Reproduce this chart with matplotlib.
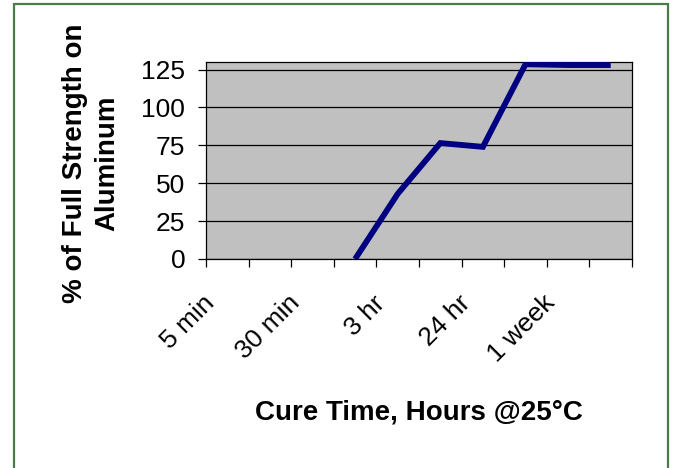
import numpy as np
import matplotlib
matplotlib.use("Agg")
import matplotlib.pyplot as plt
import matplotlib.transforms as mtransforms
from matplotlib.patches import Rectangle

# data (10 categories, only every other one labelled)
cure_labels = ["5 min", "", "30 min", "", "3 hr", "", "24 hr", "", "1 week", ""]
strength = [np.nan, np.nan, np.nan, 0, 43, 76.5, 74, 128.5, 128, 128]
y_ticks = [0, 25, 50, 75, 100, 125]

plt.rcParams['font.family'] = ['Liberation Sans', 'DejaVu Sans']

fig = plt.figure(figsize=(6.73, 4.68), dpi=100)
ax = fig.add_axes([206 / 673, 1 - 259 / 468, 426 / 673, 197 / 468])

x = np.arange(len(cure_labels))
ax.plot(x, strength, color='#000080', lw=4.2, solid_joinstyle='miter',
        solid_capstyle='butt', zorder=3)

ax.set_facecolor('#c0c0c0')
ax.set_xlim(-0.5, len(cure_labels) - 0.5)
ax.set_ylim(0, 130)
ax.set_yticks(y_ticks)
ax.yaxis.grid(True, color='black', lw=0.9)
ax.set_axisbelow(True)
for s in ax.spines.values():
    s.set_color('black')
    s.set_linewidth(0.9)

# tick marks on category boundaries, labels in the middle of categories
ax.set_xticks(np.arange(len(cure_labels) + 1) - 0.5)
ax.set_xticklabels([])
ax.tick_params(axis='x', direction='out', length=6, width=0.9)
ax.tick_params(axis='y', direction='out', length=6, width=0.9, pad=9, labelsize=19)

shift = mtransforms.ScaledTranslation(-25 / 100, -32 / 100, fig.dpi_scale_trans)
trans = ax.get_xaxis_transform() + shift
for xi, lab in zip(x, cure_labels):
    if lab:
        ax.text(xi, 0, lab, transform=trans, rotation=45, rotation_mode='anchor',
                ha='right', va='top', fontsize=19)

fig.text(419 / 673, 1 - 412 / 468, "Cure Time, Hours @25°C", ha='center',
         va='center', fontsize=20, fontweight='bold')
fig.text(91 / 673, 1 - 163 / 468, "% of Full Strength on\nAluminum",
         rotation=90, ha='center', va='center', multialignment='center',
         fontsize=20, fontweight='bold', linespacing=1.3)

# green frame round the chart (its bottom edge is cut off)
fig.patches.append(Rectangle((13.5 / 673, -0.05), 654.5 / 673, 1.05 - 4.5 / 468,
                             transform=fig.transFigure, fill=False,
                             edgecolor='#4a7a4a', lw=1.6))

fig.savefig("out.png", dpi=100)
